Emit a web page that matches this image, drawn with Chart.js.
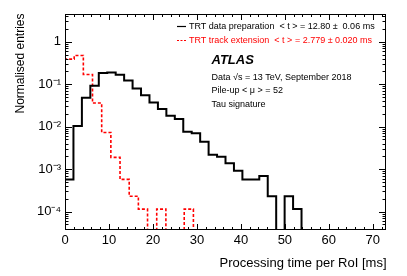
<!DOCTYPE html>
<html>
<head>
<meta charset="utf-8">
<script src="https://cdn.jsdelivr.net/npm/chart.js@4.4.0/dist/chart.umd.min.js"></script>
<style>
  html, body { margin: 0; padding: 0; background: #fff; }
  #wrap { width: 407px; height: 276px; position: relative; }
</style>
</head>
<body>
<div id="wrap"><canvas id="timingChart" width="407" height="276"></canvas></div>
<script>
// bin contents (normalised entries), 0 = empty bin
const dataPrepValues = [0.000575, 0.0104, 0.048, 0.092, 0.183, 0.19, 0.168, 0.122, 0.079, 0.055,
  0.037, 0.026, 0.0182, 0.0152, 0.0076, 0.0070, 0.0044, 0.0022, 0.00196, 0.00138,
  0.00092, 0.000575, 0.000575, 0.00069, 0.00023, 0, 0.00023, 0.000115, 0, 0,
  0, 0, 0, 0, 0, 0, 0, 0];
const trackExtValues = [0.39, 0.475, 0.17, 0.036, 0.0073, 0.0019, 0.000575, 0.00023, 0.000115, 0,
  0.000115, 0, 0, 0.000115, 0, 0, 0, 0, 0, 0,
  0, 0, 0, 0, 0, 0, 0, 0, 0, 0,
  0, 0, 0, 0, 0];
const dataPrepBinWidth = 73 / 38; // ms
const trackExtBinWidth = 73 / 35; // ms

const xTicks = [0, 10, 20, 30, 40, 50, 60, 70];
const yTicks = [1e-4, 1e-3, 1e-2, 1e-1, 1];
const yTickLabels = ['10⁻⁴', '10⁻³', '10⁻²', '10⁻¹', '1'];
const xMax = 73;
const yMin = 3.7e-5;
const yMax = 4.5;

const seriesLabels = ['TRT data preparation  < t > = 12.80 ±  0.06 ms',
  'TRT track extension  < t > = 2.779 ± 0.020 ms'];
const infoLines = ['Data √s = 13 TeV, September 2018', 'Pile-up < μ > = 52', 'Tau signature'];

const FONT = '"Liberation Sans", Arial, Helvetica, sans-serif';

function histPoints(values, width) {
  const pts = [{ x: 0, y: yMin }];
  values.forEach((v, i) => pts.push({ x: i * width, y: Math.max(v, yMin) }));
  pts.push({ x: values.length * width, y: yMin });
  return pts;
}

// ROOT style frame: inward ticks on all four sides, legend and labels
const rootFrame = {
  id: 'rootFrame',
  afterDatasetsDraw(chart) {
    const ctx = chart.ctx;
    const a = chart.chartArea;
    const xs = chart.scales.x, ys = chart.scales.y;
    ctx.save();
    ctx.strokeStyle = '#000';
    ctx.lineWidth = 1;
    ctx.strokeRect(a.left + 0.5, a.top + 0.5, a.right - a.left - 1, a.bottom - a.top - 1);

    ctx.beginPath();
    for (let v = 0; v <= xMax; v += 2) {
      const px = Math.round(xs.getPixelForValue(v)) + 0.5;
      const len = v % 10 === 0 ? 6 : 3;
      ctx.moveTo(px, a.bottom); ctx.lineTo(px, a.bottom - len);
      ctx.moveTo(px, a.top); ctx.lineTo(px, a.top + len);
    }
    for (let d = -5; d <= 0; d++) {
      for (let k = 1; k <= 9; k++) {
        const v = k * Math.pow(10, d);
        if (v < yMin || v > yMax) continue;
        const py = Math.round(ys.getPixelForValue(v)) + 0.5;
        const len = k === 1 ? 7 : 3.5;
        ctx.moveTo(a.left, py); ctx.lineTo(a.left + len, py);
        ctx.moveTo(a.right, py); ctx.lineTo(a.right - len, py);
      }
    }
    ctx.stroke();

    // legend
    ctx.textBaseline = 'middle';
    ctx.textAlign = 'left';
    ctx.font = '9px ' + FONT;
    ctx.lineWidth = 1.2;
    ctx.strokeStyle = '#000';
    ctx.beginPath(); ctx.moveTo(177, 26.5); ctx.lineTo(186, 26.5); ctx.stroke();
    ctx.fillStyle = '#000';
    ctx.fillText(seriesLabels[0], 189, 27);
    ctx.strokeStyle = '#ff0000';
    ctx.setLineDash([2, 1.5]);
    ctx.beginPath(); ctx.moveTo(177, 40.5); ctx.lineTo(186, 40.5); ctx.stroke();
    ctx.setLineDash([]);
    ctx.fillStyle = '#ff0000';
    ctx.fillText(seriesLabels[1], 189, 41);

    ctx.fillStyle = '#000';
    ctx.font = 'italic bold 13px ' + FONT;
    ctx.fillText('ATLAS', 211.5, 60.5);
    ctx.font = '9px ' + FONT;
    ctx.fillText(infoLines[0], 211.5, 77.5);
    ctx.fillText(infoLines[1], 211.5, 91);
    ctx.fillText(infoLines[2], 211.5, 104.5);

    // axis titles
    ctx.font = '13px ' + FONT;
    ctx.textAlign = 'right';
    ctx.fillText('Processing time per RoI [ms]', 386.5, 263);
    ctx.save();
    ctx.translate(21, 13.5);
    ctx.rotate(-Math.PI / 2);
    ctx.font = '12px ' + FONT;
    ctx.fillText('Normalised entries', 0, 0);
    ctx.restore();
    ctx.restore();
  }
};

const ctx = document.getElementById('timingChart').getContext('2d');
const timingChart = new Chart(ctx, {
  type: 'line',
  data: {
    datasets: [{
      label: seriesLabels[0],
      data: histPoints(dataPrepValues, dataPrepBinWidth),
      borderColor: '#000',
      borderWidth: 2,
      stepped: 'before',
      pointRadius: 0,
      fill: false
    }, {
      label: seriesLabels[1],
      data: histPoints(trackExtValues, trackExtBinWidth),
      borderColor: '#ff0000',
      borderWidth: 1.6,
      borderDash: [3, 2],
      stepped: 'before',
      pointRadius: 0,
      fill: false
    }]
  },
  options: {
    responsive: false,
    animation: false,
    layout: { padding: { top: 14, right: 21, left: 0, bottom: 0 } },
    plugins: { legend: { display: false }, tooltip: { enabled: false } },
    scales: {
      x: {
        type: 'linear', min: 0, max: xMax,
        afterBuildTicks: s => { s.ticks = xTicks.map(v => ({ value: v })); },
        afterFit: s => { s.height = 46; },
        grid: { display: false, drawTicks: false },
        border: { display: false },
        ticks: { color: '#000', padding: 3, maxRotation: 0, autoSkip: false,
          font: { family: FONT, size: 13 }, callback: v => String(v) }
      },
      y: {
        type: 'logarithmic', min: yMin, max: yMax,
        afterBuildTicks: s => { s.ticks = yTicks.map(v => ({ value: v })); },
        afterFit: s => { s.width = 65; },
        grid: { display: false, drawTicks: false },
        border: { display: false },
        ticks: { color: '#000', padding: 4, autoSkip: false,
          font: { family: FONT, size: 13 },
          callback: v => yTickLabels[yTicks.indexOf(v)] }
      }
    }
  },
  plugins: [rootFrame]
});
</script>
</body>
</html>
